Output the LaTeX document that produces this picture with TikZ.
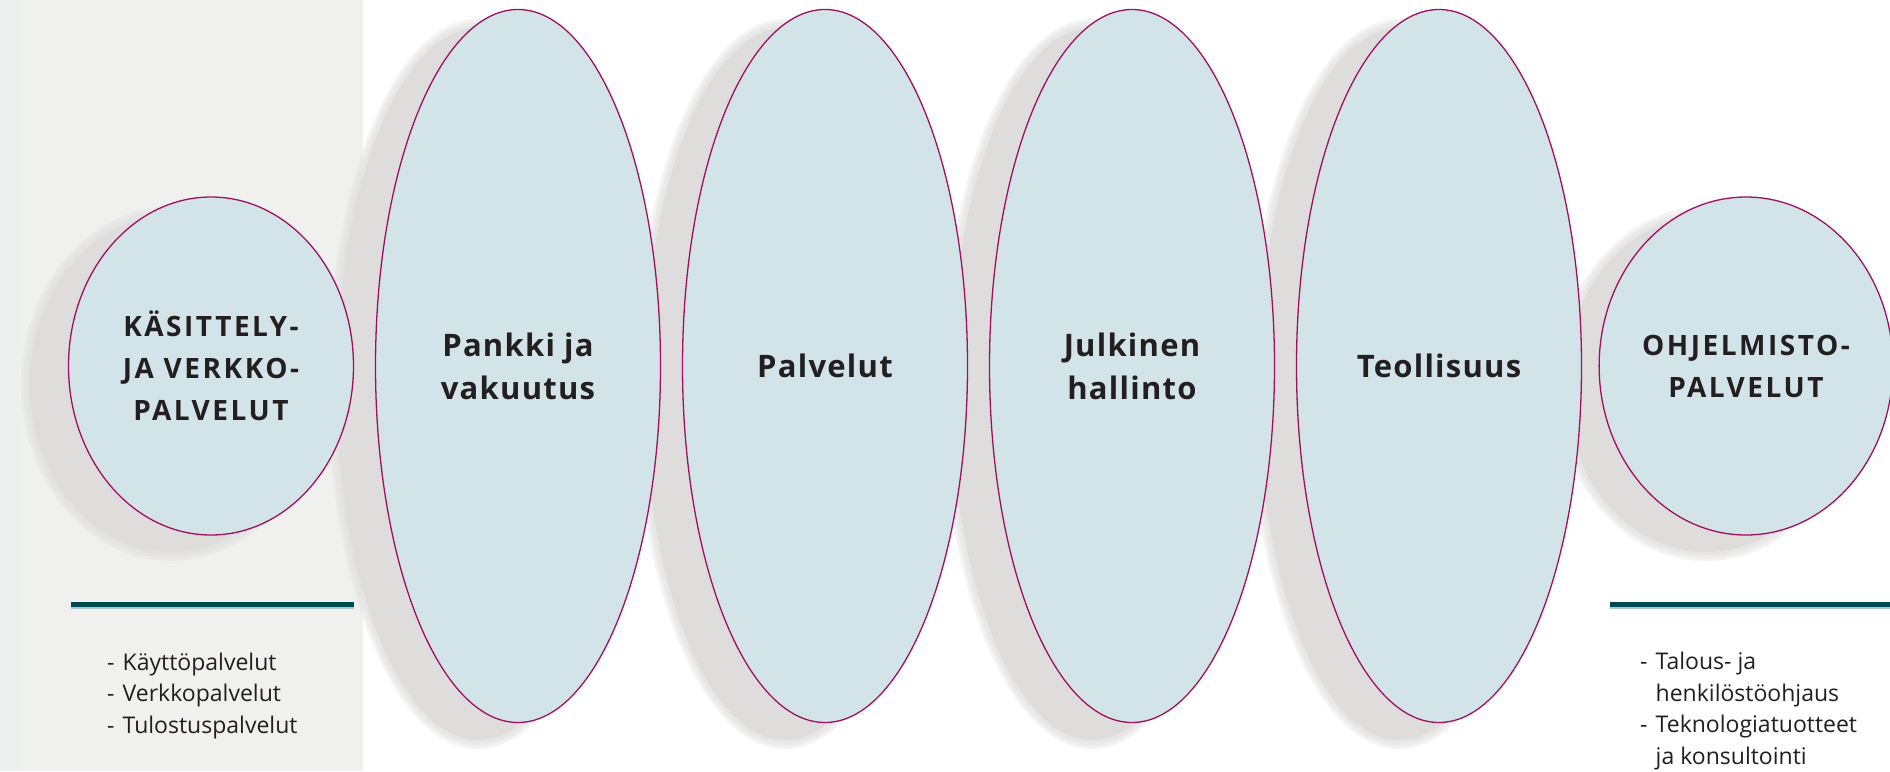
\documentclass[tikz,border=0pt]{standalone}
\usepackage{fontspec}
\setmainfont{Open Sans}
\newfontfamily\labelfont[LetterSpace=4]{Open Sans}
\newfontfamily\capsfont[LetterSpace=9]{Open Sans}
\usetikzlibrary{shapes.geometric}
\usetikzlibrary{positioning}
\definecolor{PanelGray}{HTML}{F0F1EE}
\definecolor{PanelStrip}{HTML}{ECF1F0}
\definecolor{OvalFill}{HTML}{D2E4E7}
\definecolor{OvalLine}{HTML}{A0105F}
\definecolor{ShadowGray}{HTML}{DEDDDC}
\definecolor{RuleTeal}{HTML}{004B51}
\definecolor{RuleLight}{HTML}{A9CBD0}
\definecolor{TextDark}{HTML}{231F20}
\newcommand{\sectorfont}{\labelfont\bfseries\fontsize{31}{43}\selectfont}
\newcommand{\servicefont}{\capsfont\bfseries\fontsize{28}{42}\selectfont}
\newcommand{\itemfont}{\fontsize{23}{31.5}\selectfont}
\newcommand{\itemdash}{\makebox[15.5pt][l]{-}}
\newcommand{\itemgap}{\hspace*{15.5pt}}
\tikzset{
  % light blue ovals with a purple outline
  oval/.style={ellipse,draw=OvalLine,fill=OvalFill,line width=1.3pt,
    inner sep=0pt,minimum width=285pt,align=center,text=TextDark},
  sector/.style={oval,minimum height=713pt,font=\sectorfont},
  service/.style={oval,minimum height=338pt,font=\servicefont},
  % teal rule over the lists
  rule/.style={RuleTeal,line width=5pt},
  rulelight/.style={RuleLight,line width=1.3pt},
  % lists of services (placed by the baseline of their last line)
  itemlist/.style={align=left,inner sep=0pt,anchor=base west,
    font=\itemfont,text=TextDark},
}

\begin{document}
\begin{tikzpicture}[x=1pt,y=-1pt]
  \useasboundingbox (0,0) rectangle (1890,771);
  % grey panel at the left
  \fill[PanelGray] (0,0) rectangle (363,771);
  \fill[PanelStrip] (0,0) rectangle (20,771);

  % soft shadows, below and left of the ovals
  \foreach \cx/\ry in {211/169,518/357,825/357,1132/357,1439/357,1746/169} {
    \foreach \b in {8,5,2}
      \fill[ShadowGray,opacity=.35] (\cx-40,384)
        ellipse [x radius={142pt+\b pt},y radius={\ry pt+\b pt}];
    \fill[ShadowGray] (\cx-40,384)
      ellipse [x radius=141pt,y radius={\ry pt-1pt}];
  }

  \node[service] (kas)  at (211,366)  {KÄSITTELY-\\JA VERKKO-\\PALVELUT};
  \node[sector]  (pank) at (518,366)  {Pankki ja\\vakuutus};
  \node[sector]  (palv) at (825,366)  {Palvelut};
  \node[sector]  (julk) at (1132,366) {Julkinen\\hallinto};
  \node[sector]  (teol) at (1439,366) {Teollisuus};
  \node[service] (ohj)  at (1746,366) {OHJELMISTO-\\PALVELUT};

  % rules and lists under the two service ovals
  \draw[rule] (71,604.5) -- (354,604.5);
  \draw[rulelight] (71,608) -- (354,608);
  \draw[rule] (1610,604.5) -- (1890,604.5);
  \draw[rulelight] (1610,608) -- (1890,608);

  \node[itemlist] (kas-list) at (107,733)
    {\itemdash Käyttöpalvelut\\\itemdash Verkkopalvelut\\\itemdash Tulostuspalvelut};
  \node[itemlist] (ohj-list) at (1640,764)
    {\itemdash Talous- ja\\\itemgap henkilöstöohjaus\\
     \itemdash Teknologiatuotteet\\\itemgap ja konsultointi};
\end{tikzpicture}
\end{document}
